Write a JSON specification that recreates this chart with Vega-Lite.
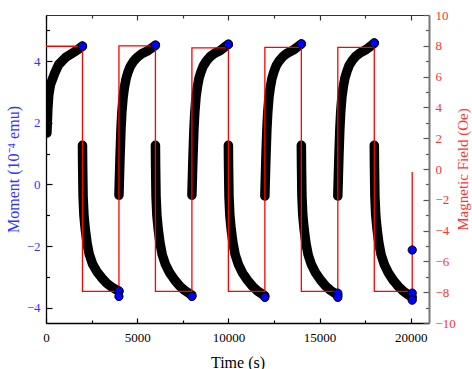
{
  "$schema": "https://vega.github.io/schema/vega-lite/v6.json",
  "width": 383,
  "height": 308,
  "autosize": {"type": "none"},
  "padding": {"left": 46, "top": 15, "right": 43, "bottom": 46},
  "background": "white",
  "config": {
    "view": {"stroke": null},
    "font": "Liberation Serif",
    "axis": {"grid": false, "labelFont": "Liberation Serif", "titleFont": "Liberation Serif", "labelFontSize": 13, "titleFontSize": 16, "titleFontWeight": "normal", "labelFlush": false}
  },
  "datasets": {
    "moment": [
      {"t":50,"m":1.67,"s":0},{"t":100,"m":2.45,"s":0},{"t":150,"m":2.9,"s":0},{"t":250,"m":3.25,"s":0},{"t":470,"m":3.6,"s":0},{"t":695,"m":3.89,"s":0},{"t":1085,"m":4.13,"s":0},{"t":1550,"m":4.3,"s":0},{"t":1800,"m":4.4,"s":0},{"t":2000,"m":4.49,"s":0},
      {"t":2000,"m":1.27,"s":1},{"t":2010,"m":0.6,"s":1},{"t":2033,"m":-0.38,"s":1},{"t":2080,"m":-1.0,"s":1},{"t":2153,"m":-1.46,"s":1},{"t":2250,"m":-1.9,"s":1},{"t":2372,"m":-2.27,"s":1},{"t":2550,"m":-2.58,"s":1},{"t":2780,"m":-2.82,"s":1},{"t":3050,"m":-3.03,"s":1},{"t":3330,"m":-3.21,"s":1},{"t":3600,"m":-3.33,"s":1},{"t":3850,"m":-3.42,"s":1},{"t":4000,"m":-3.47,"s":1},
      {"t":4000,"m":-0.35,"s":2},{"t":4030,"m":0.3,"s":2},{"t":4060,"m":0.9,"s":2},{"t":4110,"m":1.78,"s":2},{"t":4160,"m":2.35,"s":2},{"t":4225,"m":2.82,"s":2},{"t":4300,"m":3.15,"s":2},{"t":4389,"m":3.43,"s":2},{"t":4500,"m":3.65,"s":2},{"t":4619,"m":3.83,"s":2},{"t":4800,"m":4.0,"s":2},{"t":5003,"m":4.13,"s":2},{"t":5250,"m":4.24,"s":2},{"t":5555,"m":4.33,"s":2},{"t":5800,"m":4.43,"s":2},{"t":6000,"m":4.52,"s":2},
      {"t":6000,"m":1.27,"s":3},{"t":6010,"m":0.6,"s":3},{"t":6033,"m":-0.38,"s":3},{"t":6080,"m":-1.0,"s":3},{"t":6153,"m":-1.46,"s":3},{"t":6250,"m":-1.9,"s":3},{"t":6372,"m":-2.28,"s":3},{"t":6550,"m":-2.6,"s":3},{"t":6780,"m":-2.87,"s":3},{"t":7050,"m":-3.1,"s":3},{"t":7330,"m":-3.3,"s":3},{"t":7600,"m":-3.44,"s":3},{"t":7850,"m":-3.54,"s":3},{"t":8000,"m":-3.6,"s":3},
      {"t":8000,"m":-0.35,"s":4},{"t":8030,"m":0.3,"s":4},{"t":8060,"m":0.9,"s":4},{"t":8110,"m":1.78,"s":4},{"t":8160,"m":2.35,"s":4},{"t":8225,"m":2.83,"s":4},{"t":8300,"m":3.16,"s":4},{"t":8389,"m":3.44,"s":4},{"t":8500,"m":3.66,"s":4},{"t":8619,"m":3.84,"s":4},{"t":8800,"m":4.01,"s":4},{"t":9003,"m":4.15,"s":4},{"t":9250,"m":4.26,"s":4},{"t":9555,"m":4.35,"s":4},{"t":9800,"m":4.46,"s":4},{"t":10000,"m":4.55,"s":4},
      {"t":10000,"m":1.27,"s":5},{"t":10010,"m":0.6,"s":5},{"t":10033,"m":-0.38,"s":5},{"t":10080,"m":-1.0,"s":5},{"t":10153,"m":-1.46,"s":5},{"t":10250,"m":-1.9,"s":5},{"t":10372,"m":-2.28,"s":5},{"t":10550,"m":-2.6,"s":5},{"t":10780,"m":-2.88,"s":5},{"t":11050,"m":-3.11,"s":5},{"t":11330,"m":-3.31,"s":5},{"t":11600,"m":-3.46,"s":5},{"t":11850,"m":-3.56,"s":5},{"t":12000,"m":-3.62,"s":5},
      {"t":12000,"m":-0.38,"s":6},{"t":12030,"m":0.28,"s":6},{"t":12060,"m":0.9,"s":6},{"t":12110,"m":1.78,"s":6},{"t":12160,"m":2.35,"s":6},{"t":12225,"m":2.83,"s":6},{"t":12300,"m":3.16,"s":6},{"t":12389,"m":3.44,"s":6},{"t":12500,"m":3.66,"s":6},{"t":12619,"m":3.85,"s":6},{"t":12800,"m":4.02,"s":6},{"t":13003,"m":4.16,"s":6},{"t":13250,"m":4.27,"s":6},{"t":13555,"m":4.36,"s":6},{"t":13800,"m":4.47,"s":6},{"t":14000,"m":4.56,"s":6},
      {"t":14000,"m":1.27,"s":7},{"t":14010,"m":0.6,"s":7},{"t":14033,"m":-0.38,"s":7},{"t":14080,"m":-1.0,"s":7},{"t":14153,"m":-1.46,"s":7},{"t":14250,"m":-1.9,"s":7},{"t":14372,"m":-2.28,"s":7},{"t":14550,"m":-2.6,"s":7},{"t":14780,"m":-2.87,"s":7},{"t":15050,"m":-3.1,"s":7},{"t":15330,"m":-3.3,"s":7},{"t":15600,"m":-3.44,"s":7},{"t":15850,"m":-3.54,"s":7},{"t":16000,"m":-3.6,"s":7},
      {"t":16000,"m":-0.38,"s":8},{"t":16030,"m":0.28,"s":8},{"t":16060,"m":0.9,"s":8},{"t":16110,"m":1.78,"s":8},{"t":16160,"m":2.36,"s":8},{"t":16225,"m":2.84,"s":8},{"t":16300,"m":3.17,"s":8},{"t":16389,"m":3.45,"s":8},{"t":16500,"m":3.67,"s":8},{"t":16619,"m":3.86,"s":8},{"t":16800,"m":4.03,"s":8},{"t":17003,"m":4.17,"s":8},{"t":17250,"m":4.28,"s":8},{"t":17555,"m":4.38,"s":8},{"t":17800,"m":4.49,"s":8},{"t":18000,"m":4.59,"s":8},
      {"t":18000,"m":1.27,"s":9},{"t":18010,"m":0.6,"s":9},{"t":18033,"m":-0.38,"s":9},{"t":18080,"m":-1.0,"s":9},{"t":18153,"m":-1.46,"s":9},{"t":18250,"m":-1.9,"s":9},{"t":18372,"m":-2.28,"s":9},{"t":18550,"m":-2.6,"s":9},{"t":18780,"m":-2.88,"s":9},{"t":19050,"m":-3.12,"s":9},{"t":19330,"m":-3.32,"s":9},{"t":19600,"m":-3.47,"s":9},{"t":19850,"m":-3.58,"s":9},{"t":20080,"m":-3.66,"s":9}
    ],
    "field": [
      {"t":0,"h":7.97},{"t":2000,"h":-7.95},{"t":4000,"h":7.99},{"t":6000,"h":-7.95},{"t":8000,"h":7.86},{"t":10000,"h":-7.95},{"t":12000,"h":7.9},{"t":14000,"h":-7.95},{"t":16000,"h":7.9},{"t":18000,"h":-7.95},{"t":20080,"h":-0.2}
    ],
    "dots": [
      {"t":2000,"m":4.49},{"t":4000,"m":-3.46},{"t":4000,"m":-3.64},{"t":6000,"m":4.52},{"t":8000,"m":-3.64},{"t":10000,"m":4.55},{"t":12000,"m":-3.67},{"t":14000,"m":4.56},{"t":16000,"m":-3.53},{"t":16000,"m":-3.67},{"t":18000,"m":4.59},{"t":20080,"m":-3.53},{"t":20080,"m":-3.76},{"t":20080,"m":-2.13}
    ]
  },
  "layer": [
    {
      "data": {"name": "moment"},
      "mark": {"type": "line", "stroke": "black", "strokeWidth": 9.5, "strokeCap": "round", "strokeJoin": "round", "clip": true},
      "encoding": {
        "x": {"field": "t", "type": "quantitative", "scale": {"domain": [0, 21000], "nice": false, "zero": false},
          "axis": {"orient": "bottom", "values": [0,2500,5000,7500,10000,12500,15000,17500,20000], "format": "d",
            "labelExpr": "datum.value % 5000 === 0 ? datum.label : ''",
            "tickSize": {"condition": {"test": "datum.value % 5000 === 0", "value": -5}, "value": -3},
            "tickColor": "black", "tickWidth": 1.2, "domainColor": "black", "domainWidth": 1.3,
            "labelFont": "Liberation Serif", "labelFontSize": 13, "titleFont": "Liberation Serif", "titleFontSize": 16, "titleFontWeight": "normal", "labelFlush": false,
            "labelColor": "black", "labelPadding": 13, "title": "Time (s)", "titleColor": "black", "titlePadding": 10}},
        "y": {"field": "m", "type": "quantitative", "scale": {"domain": [-4.5, 5.5], "nice": false, "zero": false},
          "axis": {"orient": "left", "values": [-4,-3,-2,-1,0,1,2,3,4,5],
            "labelExpr": "datum.value % 2 === 0 ? datum.label : ''",
            "tickSize": {"condition": {"test": "datum.value % 2 === 0", "value": -6}, "value": -3.5},
            "tickColor": "black", "tickWidth": 1.2, "domainColor": "black", "domainWidth": 1.3,
            "labelFont": "Liberation Serif", "labelFontSize": 13, "titleFont": "Liberation Serif", "titleFontSize": 16, "titleFontWeight": "normal", "labelFlush": false,
            "labelColor": "#3333ff", "labelPadding": 12, "title": "Moment (10⁻⁴ emu)", "titleColor": "#3333ff", "titlePadding": 5}},
        "detail": {"field": "s", "type": "nominal"}
      }
    },
    {
      "data": {"name": "field"},
      "mark": {"type": "line", "interpolate": "step-after", "stroke": "#ff0000", "strokeWidth": 1.3},
      "encoding": {
        "x": {"field": "t", "type": "quantitative", "scale": {"domain": [0, 21000], "nice": false, "zero": false},
          "axis": {"orient": "top", "values": [0,2500,5000,7500,10000,12500,15000,17500,20000], "labels": false, "title": null,
            "tickSize": {"condition": {"test": "datum.value % 5000 === 0", "value": -5}, "value": -3},
            "tickColor": "#333333", "tickWidth": 1.2, "domainColor": "#333333", "domainWidth": 1.2}},
        "y": {"field": "h", "type": "quantitative", "scale": {"domain": [-10, 10], "nice": false, "zero": false},
          "axis": {"orient": "right", "values": [-10,-9,-8,-7,-6,-5,-4,-3,-2,-1,0,1,2,3,4,5,6,7,8,9,10],
            "labelExpr": "datum.value % 2 === 0 ? datum.label : ''",
            "tickSize": {"condition": {"test": "datum.value % 2 === 0", "value": -6}, "value": -3.5},
            "tickColor": "#555555", "tickWidth": 1.2, "domainColor": "#777777", "domainWidth": 2,
            "labelFont": "Liberation Serif", "labelFontSize": 13, "titleFont": "Liberation Serif", "titleFontSize": 15, "titleFontWeight": "normal", "labelFlush": false,
            "labelColor": "#ff3333", "labelPadding": 12, "title": "Magnetic Field (Oe)", "titleColor": "#ff3333", "titleAngle": 270, "titlePadding": 15}}
      }
    },
    {
      "data": {"name": "dots"},
      "mark": {"type": "circle", "fill": "#0000ff", "stroke": "black", "strokeWidth": 1, "size": 68, "opacity": 1, "fillOpacity": 1},
      "encoding": {
        "x": {"field": "t", "type": "quantitative", "scale": {"domain": [0, 21000], "nice": false, "zero": false}, "axis": null},
        "y": {"field": "m", "type": "quantitative", "scale": {"domain": [-4.5, 5.5], "nice": false, "zero": false}, "axis": null}
      }
    }
  ],
  "resolve": {"scale": {"y": "independent"}, "axis": {"x": "independent", "y": "independent"}}
}
